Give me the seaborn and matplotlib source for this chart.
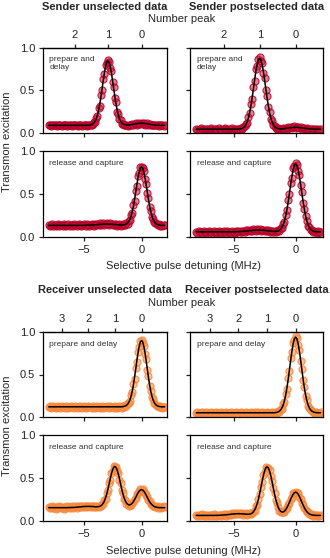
import matplotlib
matplotlib.use("Agg")
import matplotlib.pyplot as plt
import seaborn as sns

# Detuning sweep (MHz)
detuning = [-8.0, -7.9, -7.8, -7.7, -7.6, -7.5, -7.4, -7.3, -7.2, -7.1,
            -7.0, -6.9, -6.8, -6.7, -6.6, -6.5, -6.4, -6.3, -6.2, -6.1,
            -6.0, -5.9, -5.8, -5.7, -5.6, -5.5, -5.4, -5.3, -5.2, -5.1,
            -5.0, -4.9, -4.8, -4.7, -4.6, -4.5, -4.4, -4.3, -4.2, -4.1,
            -4.0, -3.9, -3.8, -3.7, -3.6, -3.5, -3.4, -3.3, -3.2, -3.1,
            -3.0, -2.9, -2.8, -2.7, -2.6, -2.5, -2.4, -2.3, -2.2, -2.1,
            -2.0, -1.9, -1.8, -1.7, -1.6, -1.5, -1.4, -1.3, -1.2, -1.1,
            -1.0, -0.9, -0.8, -0.7, -0.6, -0.5, -0.4, -0.3, -0.2, -0.1,
            0.0, 0.1, 0.2, 0.3, 0.4, 0.5, 0.6, 0.7, 0.8, 0.9,
            1.0, 1.1, 1.2, 1.3, 1.4, 1.5, 1.6, 1.7, 1.8, 1.9, 2.0]

# ---- sender, unselected, prepare and delay
s_un_prep = [.10, .09, .08, .10, .09, .09, .10, .08, .09, .10,
             .09, .08, .10, .09, .10, .09, .08, .09, .10, .09,
             .08, .10, .09, .09, .10, .08, .09, .10, .09, .08,
             .10, .09, .09, .08, .10, .09, .10, .09, .11, .13,
             .13, .18, .20, .29, .32, .45, .50, .64, .69, .80,
             .82, .86, .84, .77, .73, .60, .54, .41, .36, .25,
             .22, .16, .15, .11, .11, .09, .10, .10, .08, .10,
             .10, .09, .11, .10, .11, .12, .10, .11, .12, .11,
             .12, .11, .12, .10, .11, .12, .10, .11, .09, .10,
             .10, .09, .10, .09, .10, .08, .09, .10, .09, .08, .09]
s_un_prep_fit = [.090, .090, .090, .090, .090, .090, .090, .090, .090, .090,
                 .090, .090, .090, .090, .090, .090, .090, .090, .090, .090,
                 .090, .090, .090, .090, .090, .090, .090, .090, .090, .090,
                 .090, .090, .090, .090, .090, .092, .095, .099, .107, .119,
                 .139, .169, .212, .269, .341, .427, .522, .619, .710, .784,
                 .833, .850, .833, .784, .710, .619, .522, .427, .341, .269,
                 .212, .169, .139, .119, .107, .100, .097, .094, .093, .095,
                 .096, .098, .100, .103, .105, .108, .110, .112, .114, .115,
                 .115, .115, .114, .112, .110, .108, .105, .103, .100, .098,
                 .096, .095, .093, .092, .092, .091, .090, .090, .090, .090, .090]

# ---- sender, postselected, prepare and delay
s_post_prep = [.05, .04, .04, .05, .06, .04, .05, .04, .05, .05,
               .04, .05, .06, .04, .04, .05, .05, .04, .06, .05,
               .04, .04, .05, .06, .05, .04, .05, .04, .05, .06,
               .04, .05, .04, .05, .05, .04, .06, .05, .07, .08,
               .11, .12, .19, .23, .34, .40, .54, .61, .75, .79,
               .87, .89, .85, .82, .71, .65, .50, .43, .31, .25,
               .17, .14, .09, .08, .06, .05, .06, .05, .04, .05,
               .06, .05, .06, .05, .07, .06, .07, .06, .07, .08,
               .06, .07, .07, .06, .07, .05, .06, .06, .05, .06,
               .05, .04, .05, .05, .04, .05, .05, .04, .05, .04, .05]
s_post_prep_fit = [.045, .045, .045, .045, .045, .045, .045, .045, .045, .045,
                   .045, .045, .045, .045, .045, .045, .045, .045, .045, .045,
                   .045, .045, .045, .045, .045, .045, .045, .045, .045, .045,
                   .045, .045, .045, .045, .045, .048, .050, .055, .063, .077,
                   .099, .132, .179, .241, .321, .415, .519, .626, .726, .807,
                   .862, .880, .862, .807, .726, .626, .519, .415, .321, .241,
                   .179, .132, .099, .077, .063, .056, .051, .050, .048, .049,
                   .050, .052, .054, .056, .058, .061, .063, .064, .066, .067,
                   .067, .067, .066, .064, .063, .061, .058, .056, .054, .052,
                   .050, .049, .048, .047, .046, .046, .045, .045, .045, .045, .045]

# ---- sender, unselected, release and capture
s_un_rel = [.14, .13, .14, .15, .13, .14, .13, .14, .15, .13,
            .14, .14, .13, .15, .14, .13, .14, .15, .13, .14,
            .14, .13, .15, .14, .13, .14, .15, .14, .13, .14,
            .15, .14, .13, .15, .14, .13, .14, .15, .14, .13,
            .15, .14, .15, .14, .16, .14, .15, .16, .14, .15,
            .16, .15, .14, .16, .15, .14, .15, .14, .15, .13,
            .14, .15, .13, .14, .15, .14, .14, .16, .15, .19,
            .20, .26, .28, .37, .42, .54, .59, .71, .74, .81,
            .81, .80, .77, .68, .62, .51, .45, .35, .30, .23,
            .21, .17, .16, .15, .14, .15, .13, .14, .13, .14, .14]
s_un_rel_fit = [.135, .135, .135, .135, .135, .135, .135, .135, .135, .135,
                .135, .135, .135, .135, .135, .135, .135, .135, .135, .135,
                .135, .135, .135, .135, .135, .135, .135, .135, .135, .135,
                .135, .136, .136, .137, .137, .138, .138, .139, .140, .141,
                .142, .143, .144, .145, .146, .147, .148, .149, .150, .150,
                .150, .150, .150, .149, .148, .147, .146, .145, .144, .143,
                .142, .141, .140, .139, .140, .142, .145, .152, .162, .180,
                .206, .244, .295, .359, .436, .521, .608, .690, .756, .800,
                .815, .800, .756, .690, .608, .521, .436, .359, .295, .244,
                .206, .179, .161, .150, .143, .139, .137, .135, .135, .135, .135]

# ---- sender, postselected, release and capture
s_post_rel = [.06, .05, .07, .06, .06, .05, .07, .06, .05, .06,
              .07, .06, .06, .05, .07, .06, .05, .06, .07, .06,
              .05, .06, .07, .06, .05, .07, .06, .06, .05, .07,
              .06, .05, .07, .06, .07, .06, .07, .06, .07, .06,
              .08, .07, .08, .07, .08, .07, .09, .08, .07, .09,
              .08, .09, .07, .08, .08, .07, .08, .07, .08, .06,
              .07, .07, .06, .07, .06, .07, .08, .07, .10, .11,
              .15, .18, .26, .31, .43, .50, .63, .69, .80, .82,
              .86, .84, .77, .72, .60, .52, .40, .33, .24, .19,
              .13, .12, .08, .08, .06, .07, .06, .05, .07, .06, .06]
s_post_rel_fit = [.060, .060, .060, .060, .060, .060, .060, .060, .060, .060,
                  .060, .060, .060, .060, .060, .060, .060, .060, .060, .060,
                  .060, .060, .060, .060, .060, .060, .060, .060, .060, .060,
                  .061, .061, .062, .062, .063, .063, .064, .065, .067, .068,
                  .069, .071, .072, .074, .075, .076, .078, .079, .079, .080,
                  .080, .080, .079, .079, .078, .076, .075, .074, .072, .071,
                  .069, .068, .067, .065, .066, .068, .072, .079, .092, .112,
                  .143, .186, .246, .321, .410, .509, .610, .705, .781, .833,
                  .850, .833, .781, .705, .610, .509, .410, .321, .246, .186,
                  .142, .111, .090, .077, .069, .065, .062, .060, .060, .060, .060]

# ---- receiver, unselected, prepare and delay
r_un_prep = [.12, .13, .11, .12, .13, .12, .11, .12, .13, .12,
             .11, .13, .12, .12, .11, .13, .12, .11, .12, .13,
             .12, .12, .11, .13, .12, .11, .12, .13, .12, .11,
             .13, .12, .11, .12, .13, .12, .12, .11, .13, .12,
             .11, .12, .13, .12, .11, .12, .13, .11, .12, .12,
             .13, .12, .11, .13, .12, .12, .11, .13, .12, .11,
             .12, .13, .12, .11, .13, .12, .14, .13, .16, .17,
             .19, .26, .29, .39, .45, .58, .65, .77, .82, .89,
             .91, .87, .84, .74, .68, .55, .48, .36, .31, .24,
             .21, .16, .15, .13, .13, .12, .13, .12, .11, .12, .12]
r_un_prep_fit = [.120, .120, .120, .120, .120, .120, .120, .120, .120, .120,
                 .120, .120, .120, .120, .120, .120, .120, .120, .120, .120,
                 .120, .120, .120, .120, .120, .120, .120, .120, .120, .120,
                 .120, .120, .120, .120, .120, .120, .120, .120, .120, .120,
                 .120, .120, .120, .120, .120, .120, .120, .120, .120, .120,
                 .120, .120, .120, .120, .120, .120, .120, .120, .120, .120,
                 .120, .120, .120, .120, .122, .125, .129, .137, .150, .171,
                 .201, .245, .303, .377, .466, .563, .663, .756, .832, .883,
                 .900, .883, .832, .756, .663, .563, .466, .377, .303, .245,
                 .201, .171, .150, .137, .129, .125, .122, .120, .120, .120, .120]

# ---- receiver, postselected, prepare and delay
r_post_prep = [.05, .06, .04, .05, .05, .06, .04, .05, .06, .05,
               .04, .05, .06, .05, .05, .04, .06, .05, .05, .04,
               .06, .05, .04, .05, .06, .05, .05, .04, .06, .05,
               .04, .05, .06, .05, .04, .05, .06, .05, .05, .04,
               .06, .05, .05, .04, .06, .05, .04, .06, .05, .05,
               .06, .04, .05, .06, .05, .04, .05, .06, .05, .05,
               .04, .06, .05, .05, .06, .05, .07, .06, .09, .10,
               .15, .18, .27, .33, .46, .54, .69, .76, .87, .91,
               .95, .93, .85, .79, .66, .57, .43, .35, .25, .20,
               .13, .11, .08, .07, .06, .05, .06, .05, .04, .05, .06]
r_post_prep_fit = [.050, .050, .050, .050, .050, .050, .050, .050, .050, .050,
                   .050, .050, .050, .050, .050, .050, .050, .050, .050, .050,
                   .050, .050, .050, .050, .050, .050, .050, .050, .050, .050,
                   .050, .050, .050, .050, .050, .050, .050, .050, .050, .050,
                   .050, .050, .050, .050, .050, .050, .050, .050, .050, .050,
                   .050, .050, .050, .050, .050, .050, .050, .050, .050, .050,
                   .050, .050, .050, .050, .053, .055, .061, .070, .084, .108,
                   .143, .192, .259, .344, .444, .556, .669, .776, .863, .920,
                   .940, .920, .863, .776, .669, .556, .444, .344, .259, .192,
                   .143, .108, .084, .070, .061, .055, .053, .050, .050, .050, .050]

# ---- receiver, unselected, release and capture
r_un_rel = [.16, .15, .16, .17, .15, .16, .14, .16, .15, .17,
            .16, .15, .16, .14, .16, .15, .17, .16, .15, .16,
            .17, .15, .16, .17, .15, .17, .16, .17, .16, .18,
            .16, .17, .18, .16, .17, .18, .16, .17, .18, .16,
            .17, .16, .17, .16, .18, .17, .20, .20, .25, .26,
            .33, .36, .44, .48, .56, .58, .64, .63, .63, .58,
            .56, .48, .44, .36, .32, .26, .24, .20, .20, .18,
            .19, .19, .21, .22, .26, .27, .31, .32, .35, .37,
            .36, .37, .34, .33, .30, .28, .24, .23, .20, .19,
            .17, .17, .16, .17, .15, .16, .16, .15, .16, .17, .16]
r_un_rel_fit = [.155, .155, .155, .155, .155, .155, .155, .155, .155, .155,
                .155, .155, .155, .155, .155, .155, .155, .156, .156, .157,
                .157, .158, .158, .159, .160, .162, .163, .164, .165, .167,
                .168, .169, .169, .170, .170, .170, .169, .169, .168, .167,
                .165, .165, .166, .168, .171, .177, .189, .208, .234, .270,
                .314, .369, .428, .489, .547, .593, .624, .635, .624, .593,
                .547, .489, .428, .368, .313, .269, .235, .210, .194, .187,
                .188, .195, .207, .225, .248, .274, .301, .326, .347, .360,
                .365, .360, .347, .326, .301, .274, .248, .224, .204, .189,
                .177, .169, .163, .160, .158, .156, .155, .155, .155, .155, .155]

# ---- receiver, postselected, release and capture
r_post_rel = [.07, .06, .07, .06, .07, .08, .06, .07, .06, .07,
              .06, .07, .07, .06, .08, .06, .07, .06, .07, .07,
              .06, .07, .08, .07, .06, .08, .07, .08, .07, .09,
              .08, .09, .08, .09, .08, .09, .08, .09, .07, .08,
              .09, .07, .08, .09, .08, .09, .11, .12, .17, .19,
              .26, .31, .40, .45, .54, .57, .63, .62, .62, .59,
              .52, .47, .38, .32, .24, .21, .16, .12, .11, .10,
              .11, .11, .14, .15, .19, .21, .26, .28, .32, .33,
              .34, .32, .32, .28, .26, .21, .19, .15, .13, .10,
              .10, .08, .07, .08, .06, .07, .07, .06, .07, .06, .07]
r_post_rel_fit = [.065, .065, .065, .065, .065, .065, .065, .065, .065, .065,
                  .065, .065, .065, .065, .065, .065, .065, .066, .066, .067,
                  .068, .069, .070, .071, .072, .074, .075, .077, .079, .081,
                  .082, .083, .084, .085, .085, .085, .084, .083, .082, .081,
                  .079, .079, .078, .081, .084, .092, .107, .128, .158, .200,
                  .252, .316, .386, .458, .526, .581, .618, .630, .618, .581,
                  .526, .458, .386, .315, .252, .200, .158, .130, .112, .104,
                  .105, .115, .131, .156, .185, .218, .253, .285, .312, .329,
                  .335, .329, .312, .285, .253, .218, .185, .154, .128, .108,
                  .093, .083, .075, .071, .068, .067, .066, .065, .065, .065, .065]

# Number-peak tick positions (MHz) and labels
sender_peak_pos = [-5.76, -2.88, 0.0]
sender_peak_lab = ["2", "1", "0"]
receiver_peak_pos = [-6.9, -4.6, -2.3, 0.0]
receiver_peak_lab = ["3", "2", "1", "0"]

sns.set_style("ticks")
plt.rcParams["font.family"] = ["Liberation Sans", "DejaVu Sans"]
plt.rcParams["axes.linewidth"] = 0.9

W, H = 330, 558
fig = plt.figure(figsize=(W / 100, H / 100), dpi=100)


def rect(x0, y0, x1, y1):
    return [x0 / W, 1 - y1 / H, (x1 - x0) / W, (y1 - y0) / H]


sender_col = ((0.80, 0.10, 0.25, 0.55), (0.72, 0.0, 0.15, 0.85))
receiver_col = ((0.98, 0.58, 0.30, 0.6), (0.97, 0.52, 0.22, 0.85))


def panel(r, y, yfit, cols, note, left, bottom, top_pos=None, top_lab=None):
    ax = fig.add_axes(rect(*r))
    sns.scatterplot(x=detuning, y=y, color=cols[0], edgecolor=cols[1],
                    linewidth=0.8, s=26, ax=ax, zorder=2)
    sns.lineplot(x=detuning, y=yfit, color="black", lw=1.1, ax=ax, zorder=3)
    ax.set_xlim(-8.5, 2.2)
    ax.set_ylim(0, 1)
    ax.set_xticks([-5, 0])
    ax.set_yticks([0, 0.5, 1.0])
    ax.tick_params(direction="out", length=3, width=0.9, labelsize=8,
                   pad=2.5, colors="#222222")
    if left:
        ax.set_yticklabels(["0.0", "0.5", "1.0"])
    else:
        ax.set_yticklabels([])
    if not bottom:
        ax.set_xticklabels([])
    if top_pos is not None:
        sec = ax.secondary_xaxis("top")
        sec.set_xticks(top_pos, top_lab)
        sec.tick_params(direction="out", length=3, width=0.9, labelsize=8,
                        pad=2.5, colors="#222222")
    for sp in ax.spines.values():
        sp.set_color("black")
    ax.text(0.05, 0.9, note, transform=ax.transAxes, va="top", ha="left",
            fontsize=6, color="#333333")
    return ax


# sender block
panel((43, 48, 167, 133), s_un_prep, s_un_prep_fit, sender_col,
      "prepare and\ndelay", True, False, sender_peak_pos, sender_peak_lab)
panel((190, 48, 323, 133), s_post_prep, s_post_prep_fit, sender_col,
      "prepare and\ndelay", False, False, sender_peak_pos, sender_peak_lab)
panel((43, 151, 167, 237), s_un_rel, s_un_rel_fit, sender_col,
      "release and capture", True, True)
panel((190, 151, 323, 237), s_post_rel, s_post_rel_fit, sender_col,
      "release and capture", False, True)

# receiver block
panel((43, 332, 167, 417), r_un_prep, r_un_prep_fit, receiver_col,
      "prepare and delay", True, False, receiver_peak_pos, receiver_peak_lab)
panel((190, 332, 323, 417), r_post_prep, r_post_prep_fit, receiver_col,
      "prepare and delay", False, False, receiver_peak_pos, receiver_peak_lab)
panel((43, 435, 167, 521), r_un_rel, r_un_rel_fit, receiver_col,
      "release and capture", True, True)
panel((190, 435, 323, 521), r_post_rel, r_post_rel_fit, receiver_col,
      "release and capture", False, True)


def ftext(x, y, s, **kw):
    fig.text(x / W, 1 - y / H, s, ha="center", va="center", fontsize=8, **kw)


ftext(105, 6.5, "Sender unselected data", weight="bold")
ftext(256.5, 6.5, "Sender postselected data", weight="bold")
ftext(182, 18.5, "Number peak")
ftext(183.5, 266, "Selective pulse detuning (MHz)")
ftext(7, 142, "Transmon excitation", rotation=90)

ftext(105, 290, "Receiver unselected data", weight="bold")
ftext(256.5, 290, "Receiver postselected data", weight="bold")
ftext(182, 303.5, "Number peak")
ftext(183.5, 551, "Selective pulse detuning (MHz)")
ftext(7, 426, "Transmon excitation", rotation=90)

fig.savefig("out.png", dpi=100, facecolor="white")
